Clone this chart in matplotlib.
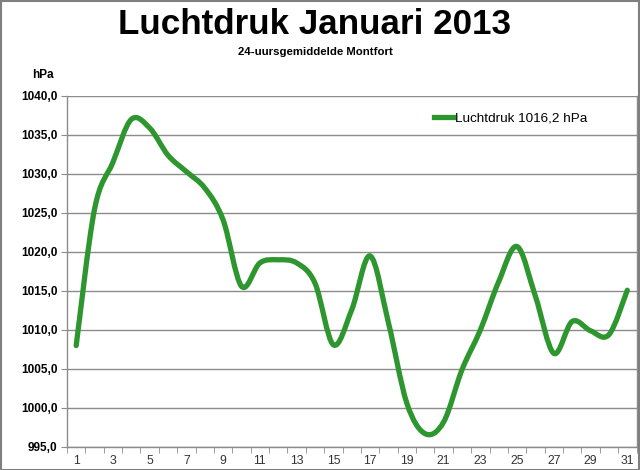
import matplotlib
matplotlib.use("Agg")
import matplotlib.pyplot as plt
from matplotlib.path import Path
from matplotlib.patches import PathPatch, Rectangle
from matplotlib.lines import Line2D
import numpy as np

plt.rcParams['font.family'] = ['Liberation Sans', 'DejaVu Sans']

days = list(range(1, 32))
pressure = [1008.0, 1025.5, 1031.5, 1037.0, 1035.9, 1032.4, 1030.3, 1028.2, 1024.1, 1015.6,
            1018.6, 1019.0, 1018.6, 1016.0, 1008.1, 1012.6, 1019.5, 1010.9, 1000.6, 996.7,
            998.2, 1004.9, 1010.0, 1016.2, 1020.7, 1014.3, 1007.0, 1011.1, 1009.9, 1009.4, 1015.1]
xtick_labels = [str(d) if d % 2 == 1 else '' for d in days]
yticks = [995, 1000, 1005, 1010, 1015, 1020, 1025, 1030, 1035, 1040]
legend_label = 'Luchtdruk 1016,2 hPa'
title = 'Luchtdruk Januari 2013'
subtitle = '24-uursgemiddelde Montfort'
unit = 'hPa'

green = '#2e962e'
gridc = '#8c8c8c'

fig = plt.figure(figsize=(6.4, 4.7), dpi=100)
ax = fig.add_axes([67/640, 1-447/470, (636.5-67)/640, (447-96)/470])

# Smoothed line (Catmull-Rom style Bezier as in Excel)
x = np.array(days, dtype=float)
y = np.array(pressure, dtype=float)
verts = [(x[0], y[0])]
codes = [Path.MOVETO]
n = len(x)
for i in range(n - 1):
    p0 = np.array([x[max(i-1, 0)], y[max(i-1, 0)]])
    p1 = np.array([x[i], y[i]])
    p2 = np.array([x[i+1], y[i+1]])
    p3 = np.array([x[min(i+2, n-1)], y[min(i+2, n-1)]])
    c1 = p1 + (p2 - p0) / 6.0
    c2 = p2 - (p3 - p1) / 6.0
    verts += [tuple(c1), tuple(c2), tuple(p2)]
    codes += [Path.CURVE4] * 3
path = Path(verts, codes)
ax.add_patch(PathPatch(path, facecolor='none', edgecolor=green, lw=3.8,
                       capstyle='round', joinstyle='round', zorder=3))

ax.set_xlim(0.5, 31.5)
ax.set_ylim(995, 1040)
ax.set_yticks(yticks)
ax.set_yticklabels([f'{v:.1f}'.replace('.', ',') for v in yticks],
                   fontsize=8.5, fontweight='bold')
ax.set_xticks(days)
ax.set_xticklabels(xtick_labels, fontsize=8.8, color='#333333')
ax.set_xticks(np.arange(0.5, 32, 1), minor=True)
ax.tick_params(axis='x', which='major', length=0, pad=6)
ax.tick_params(axis='x', which='minor', length=4, color=gridc, direction='out')
ax.tick_params(axis='y', length=4, color=gridc, direction='out', pad=3)
ax.grid(axis='y', color=gridc, lw=1.0)
ax.set_axisbelow(True)
for s in ['left', 'bottom', 'right']:
    ax.spines[s].set_color(gridc)
    ax.spines[s].set_linewidth(1.0)
ax.spines['top'].set_visible(False)

handle = Line2D([0], [0], color=green, lw=3.8)
leg = ax.legend([handle], [legend_label], loc='center left',
                bbox_to_anchor=(427/640, 1-118/470), bbox_transform=fig.transFigure,
                frameon=False, fontsize=9.7, handlelength=1.4, handletextpad=0.15,
                borderpad=0)

fig.text(314/640, 1-25/470, title, ha='center', va='center',
         fontsize=25.2, fontweight='bold')
fig.text(315/640, 1-52/470, subtitle, ha='center', va='center',
         fontsize=8.2, fontweight='bold')
fig.text(43/640, 1-75/470, unit, ha='center', va='center', fontsize=8.5,
         fontweight='bold')

fig.patches.append(Rectangle((0.5/640, 0.5/470), 638.5/640, 468.5/470,
                             transform=fig.transFigure, fill=False,
                             edgecolor='#7f7f7f', lw=1.5))

fig.savefig('out.png', dpi=100)
